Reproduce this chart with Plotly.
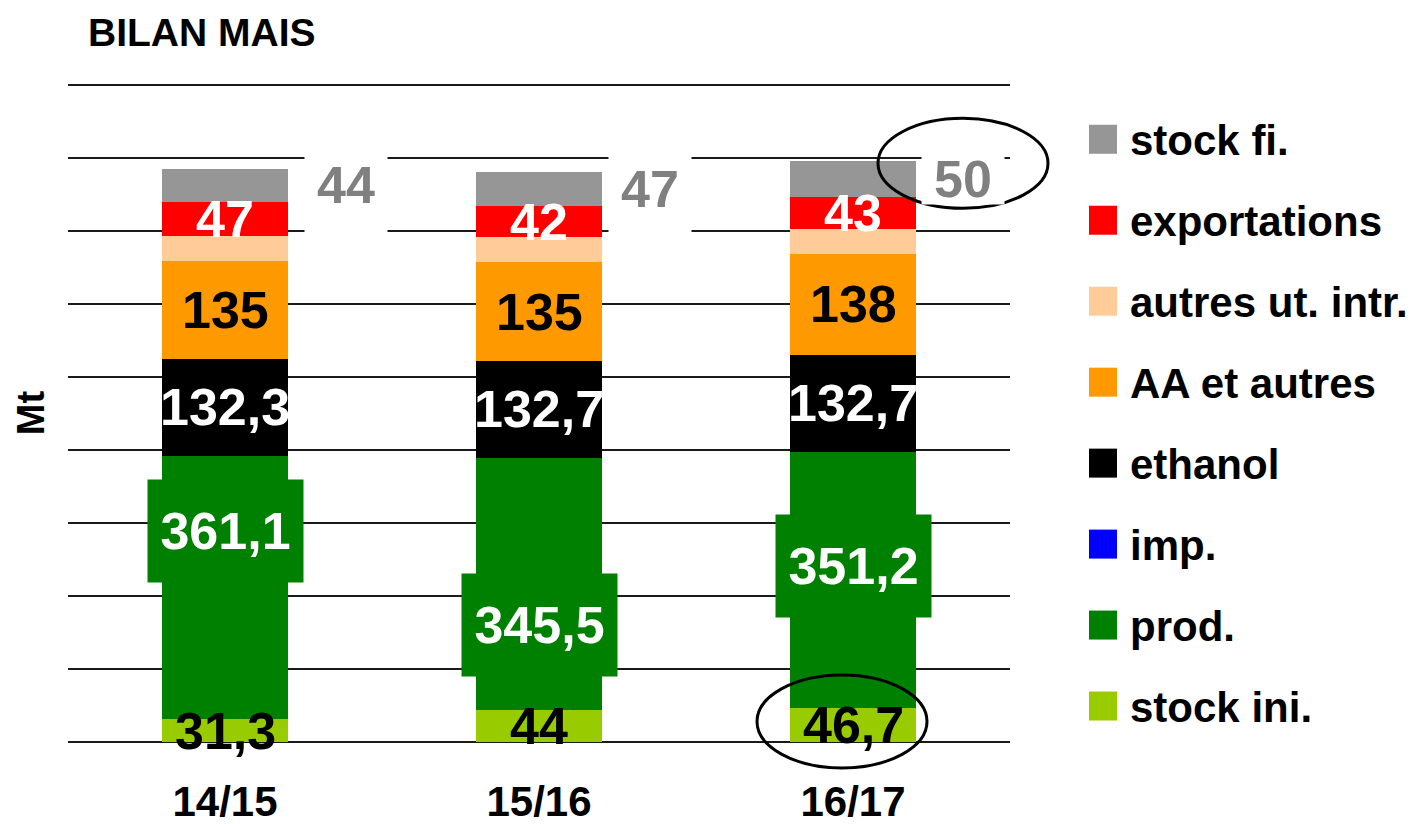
import plotly.graph_objects as go

# ---------------- data ----------------
categories = ["14/15", "15/16", "16/17"]
stock_ini = [31.3, 44.0, 46.7]
prod = [361.1, 345.5, 351.2]
imp = [0.0, 0.0, 0.0]
ethanol = [132.3, 132.7, 132.7]
aa_autres = [135, 135, 138]
autres_ut = [34, 35, 35]
exportations = [47, 42, 43]
stock_fi = [44, 47, 50]

series_names = ["stock ini.", "prod.", "imp.", "ethanol", "AA et autres",
                "autres ut. intr.", "exportations", "stock fi."]
series_values = [stock_ini, prod, imp, ethanol, aa_autres, autres_ut, exportations, stock_fi]
series_colors = ["#99CC00", "#008000", "#0000FF", "#000000", "#FF9900",
                 "#FFCC99", "#FF0000", "#969696"]

# ---------------- layout helpers (positions / styles) ----------------
W, H = 1411, 824
Y_MAX = 910
PX_PER_UNIT = 657 / 900
ML, MR, MB = 68, 401, 82
PW = W - ML - MR
PH = Y_MAX * PX_PER_UNIT
MT = H - MB - PH
FONT = "Liberation Sans, Arial, sans-serif"

def px_x(px):
    return (px - ML) / PW

def px_y(py):
    return (H - MB - py) / PH

prod_label_y = [289, 160, 241]          # manual label placement (data units)
stockfi_label_dx = [121, 111, 110]      # horizontal offset of outside labels (px)
stockfi_box_h = [100, 100, 48]

def fmt(v):
    if abs(v - round(v)) < 1e-9:
        return str(int(round(v)))
    return f"{v:.1f}".replace(".", ",")

fig = go.Figure()
for name, vals, col in zip(series_names, series_values, series_colors):
    fig.add_trace(go.Bar(
        x=categories, y=vals, name=name, marker_color=col,
        marker_line_width=0, width=0.4, showlegend=False,
        hovertemplate=name + ": %{y}<extra></extra>"))

annotations = []
big = dict(family=FONT, size=52, weight="bold")
for i, cat in enumerate(categories):
    cum = 0
    mids = {}
    for name, vals in zip(series_names, series_values):
        mids[name] = cum + vals[i] / 2
        cum += vals[i]
    annotations.append(dict(x=cat, y=mids["stock ini."], text=fmt(stock_ini[i]),
                            showarrow=False, font=dict(big, color="black")))
    annotations.append(dict(x=cat, y=prod_label_y[i], text=fmt(prod[i]),
                            showarrow=False, font=dict(big, color="white"),
                            bgcolor="#008000", width=153, height=100))
    annotations.append(dict(x=cat, y=mids["ethanol"], text=fmt(ethanol[i]),
                            showarrow=False, font=dict(big, color="white")))
    annotations.append(dict(x=cat, y=mids["AA et autres"], text=fmt(aa_autres[i]),
                            showarrow=False, font=dict(big, color="black")))
    annotations.append(dict(x=cat, y=mids["exportations"], text=fmt(exportations[i]),
                            showarrow=False, font=dict(big, color="white")))
    annotations.append(dict(x=cat, y=mids["stock fi."], text=fmt(stock_fi[i]),
                            showarrow=False, xshift=stockfi_label_dx[i],
                            font=dict(big, color="#808080"),
                            bgcolor="white", width=80, height=stockfi_box_h[i]))

# y-axis title
annotations.append(dict(xref="paper", yref="paper", x=px_x(31), y=px_y(413),
                        xanchor="center", yanchor="middle",
                        text="Mt", textangle=-90, showarrow=False,
                        font=dict(family=FONT, size=38, weight="bold", color="black")))

# manual legend (top to bottom: reversed stacking order)
shapes = []
for k, (name, col) in enumerate(zip(series_names[::-1], series_colors[::-1])):
    cy = 139 + 81 * k
    shapes.append(dict(type="rect", xref="paper", yref="paper",
                       x0=px_x(1089), x1=px_x(1117),
                       y0=px_y(cy + 14.5), y1=px_y(cy - 14.5),
                       fillcolor=col, line=dict(width=0)))
    annotations.append(dict(xref="paper", yref="paper", x=px_x(1128), y=px_y(cy + 1),
                            xanchor="left", yanchor="middle", text=name, showarrow=False,
                            font=dict(family=FONT, size=42, weight="bold", color="black")))

# highlight ellipses
shapes.append(dict(type="circle", xref="paper", yref="paper",
                   x0=px_x(878), x1=px_x(1048), y0=px_y(208), y1=px_y(118),
                   line=dict(color="black", width=3), fillcolor="rgba(0,0,0,0)"))
shapes.append(dict(type="circle", xref="paper", yref="paper",
                   x0=px_x(757), x1=px_x(927), y0=px_y(768), y1=px_y(675),
                   line=dict(color="black", width=3), fillcolor="rgba(0,0,0,0)"))

fig.update_layout(
    width=W, height=H, autosize=False,
    margin=dict(l=ML, r=MR, t=MT, b=MB, autoexpand=False),
    barmode="stack",
    plot_bgcolor="white", paper_bgcolor="white",
    title=dict(text="BILAN MAIS", xref="container", yref="container",
               x=88 / W, xanchor="left", y=1 - 32 / H, yanchor="middle",
               font=dict(family=FONT, size=39, weight="bold", color="black")),
    xaxis=dict(type="category", range=[-0.5, 2.5], showgrid=False, showline=False,
               zeroline=False, ticks="", ticklabelstandoff=31, automargin=False,
               tickfont=dict(family=FONT, size=42, weight="bold", color="black")),
    yaxis=dict(range=[0, Y_MAX], dtick=100, tick0=0, showgrid=True,
               gridcolor="#1a1a1a", gridwidth=1.5, zeroline=True,
               zerolinecolor="#1a1a1a", zerolinewidth=1.5, automargin=False,
               showticklabels=False, ticks="", showline=False),
    annotations=annotations,
    shapes=shapes,
    showlegend=False,
)

fig.write_html("out.html", config={"displayModeBar": False},
               post_script="document.body.style.margin='0px';")
